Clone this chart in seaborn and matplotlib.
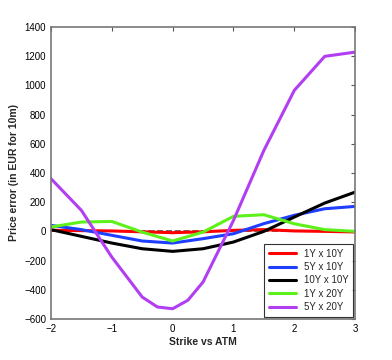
import matplotlib
matplotlib.use("Agg")
import matplotlib.pyplot as plt
import seaborn as sns
import pandas as pd
import numpy as np

# ==== Data ====
strikes = [-2, -1.5, -1, -0.5, 0, 0.5, 1, 1.5, 2, 2.5, 3]
strikes_fine = [-2, -1.5, -1, -0.5, -0.25, 0, 0.25, 0.5, 1, 1.5, 2, 2.5, 3]

err_1y10y = [8, 5, 3, -3, -9, -3, 7, 12, 3, 0, -4]
err_5y10y = [41, 12, -27, -66, -80, -50, -16, 53, 110, 155, 171]
err_10y10y = [12, -34, -80, -119, -137, -119, -73, 0, 98, 194, 269]
err_1y20y = [30, 64, 68, -5, -66, -5, 103, 114, 52, 12, 0]
err_5y20y = [361, 144, -176, -450, -518, -530, -472, -347, 75, 555, 966, 1199, 1228]

labels = ["1Y x 10Y", "5Y x 10Y", "10Y x 10Y", "1Y x 20Y", "5Y x 20Y"]
colors = ["#ff0000", "#1f3fff", "#000000", "#5ef01a", "#b23ef2"]

frames = []
for lab, xs, ys in zip(labels,
                       [strikes, strikes, strikes, strikes, strikes_fine],
                       [err_1y10y, err_5y10y, err_10y10y, err_1y20y, err_5y20y]):
    frames.append(pd.DataFrame({"Strike": xs, "Error": ys, "Series": lab}))
df = pd.concat(frames, ignore_index=True)

# ==== Plot ====
sns.set_style("white")
plt.rcParams["font.family"] = ["Liberation Sans", "DejaVu Sans"]

fig = plt.figure(figsize=(3.92, 3.6), dpi=100)
ax = fig.add_axes([0.130, 0.114, 0.776, 0.811])

ax.axhline(0, color="#555555", ls="--", lw=1.2, zorder=1)
sns.lineplot(data=df, x="Strike", y="Error", hue="Series", hue_order=labels,
             palette=colors, lw=2.2, ax=ax, zorder=2)

ax.set_xlim(-2, 3)
ax.set_ylim(-600, 1400)
ax.set_xticks(range(-2, 4))
ax.set_yticks(range(-600, 1401, 200))
ax.tick_params(direction="in", length=3, width=0.8, colors="#555555",
               labelcolor="black", labelsize=7, top=True, right=True)
for sp in ax.spines.values():
    sp.set_color("#777777")
    sp.set_linewidth(1.2)

ax.set_xlabel("Strike vs ATM", fontsize=7.5, fontweight="bold", labelpad=2)
ax.set_ylabel("Price error (in EUR for 10m)", fontsize=7.5, fontweight="bold", labelpad=4)

leg = ax.legend(loc="lower right", fontsize=7, frameon=True, fancybox=False,
                handlelength=2.8, borderpad=0.5, labelspacing=0.35,
                borderaxespad=0.2)
leg.get_frame().set_edgecolor("black")
leg.get_frame().set_linewidth(0.8)
for line in leg.get_lines():
    line.set_linewidth(2.2)

fig.savefig("out.png", dpi=100)
